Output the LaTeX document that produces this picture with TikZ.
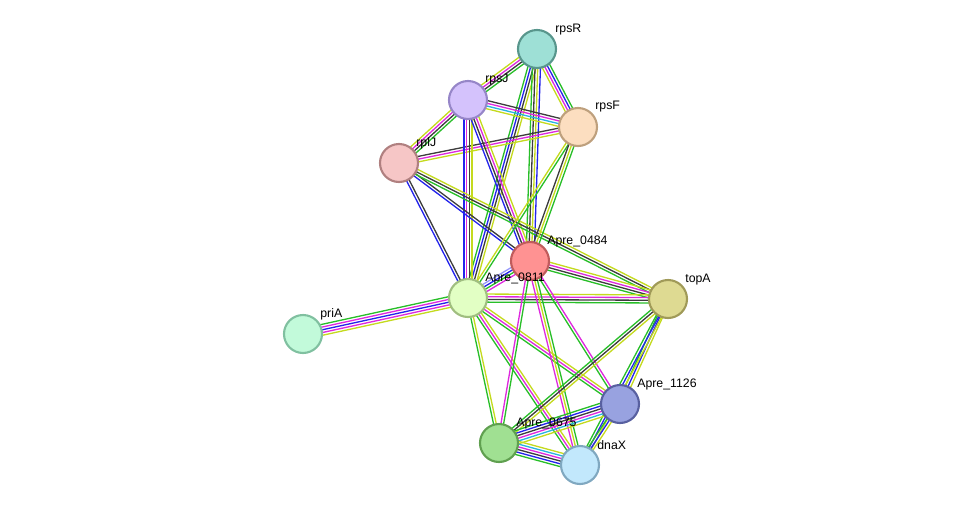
\documentclass[tikz,border=0pt]{standalone}
\usepackage{fontspec}
\setmainfont{Liberation Sans}
\usetikzlibrary{calc,backgrounds}
% evidence colours
\definecolor{nb}{RGB}{40,190,40}
\definecolor{tm}{RGB}{196,218,30}
\definecolor{cx}{RGB}{60,60,60}
\definecolor{ex}{RGB}{222,40,222}
\definecolor{db}{RGB}{40,180,225}
\definecolor{co}{RGB}{35,35,235}
\definecolor{hm}{RGB}{150,150,250}
\tikzset{prot/.style={circle, minimum size=0.76cm, line width=1.2pt, inner sep=0pt},
  lbl/.style={anchor=west, inner sep=0pt, font=\fontsize{7}{8}\selectfont},
  edge/.style={line width=0.75pt}}
% bundle of parallel evidence lines: from, to, count, colours
\newcommand{\strand}[4]{%
  \foreach \c [count=\i] in {#4}{
    \pgfmathsetmacro{\off}{(\i-(#3+1)/2)*0.054}
    \draw[edge, \c] ($(#1.center)!\off cm!90:(#2.center)$) -- ($(#2.center)!\off cm!-90:(#1.center)$);}}

\begin{document}
\begin{tikzpicture}[x=0.02cm, y=-0.02cm]
  \useasboundingbox (0,0) rectangle (975,511);
  % proteins
  \node[prot, fill={rgb,255:red,158;green,224;blue,214}, draw={rgb,255:red,88;green,150;blue,140}] (rpsR) at (537,49) {};
  \node[prot, fill={rgb,255:red,212;green,194;blue,252}, draw={rgb,255:red,150;green,134;blue,200}] (rpsJ) at (468,100) {};
  \node[prot, fill={rgb,255:red,252;green,222;blue,192}, draw={rgb,255:red,190;green,160;blue,125}] (rpsF) at (578,127) {};
  \node[prot, fill={rgb,255:red,246;green,198;blue,198}, draw={rgb,255:red,176;green,128;blue,128}] (rplJ) at (399,163) {};
  \node[prot, fill={rgb,255:red,255;green,146;blue,146}, draw={rgb,255:red,192;green,92;blue,92}] (a0484) at (530,261) {};
  \node[prot, fill={rgb,255:red,226;green,255;blue,196}, draw={rgb,255:red,160;green,190;blue,128}] (a0811) at (468,298) {};
  \node[prot, fill={rgb,255:red,222;green,218;blue,146}, draw={rgb,255:red,160;green,154;blue,88}] (topA) at (668,299) {};
  \node[prot, fill={rgb,255:red,194;green,250;blue,218}, draw={rgb,255:red,128;green,192;blue,160}] (priA) at (303,334) {};
  \node[prot, fill={rgb,255:red,152;green,162;blue,224}, draw={rgb,255:red,88;green,96;blue,160}] (a1126) at (620,404) {};
  \node[prot, fill={rgb,255:red,160;green,224;blue,146}, draw={rgb,255:red,96;green,160;blue,80}] (a0675) at (499,443) {};
  \node[prot, fill={rgb,255:red,194;green,232;blue,252}, draw={rgb,255:red,128;green,168;blue,192}] (dnaX) at (580,465) {};
  % labels
  \node[lbl] (rpsR-l) at (555,29.5) {rpsR};
  \node[lbl] (rpsJ-l) at (485,79.5) {rpsJ};
  \node[lbl] (rpsF-l) at (595,106.5) {rpsF};
  \node[lbl] (rplJ-l) at (416,143.5) {rplJ};
  \node[lbl] (a0484-l) at (547,241.5) {Apre\_0484};
  \node[lbl] (a0811-l) at (485,278.5) {Apre\_0811};
  \node[lbl] (topA-l) at (685,279.5) {topA};
  \node[lbl] (priA-l) at (320,314.5) {priA};
  \node[lbl] (a1126-l) at (637,384.5) {Apre\_1126};
  \node[lbl] (a0675-l) at (516,423.5) {Apre\_0675};
  \node[lbl] (dnaX-l) at (597,445.5) {dnaX};
  % associations
  \begin{pgfonlayer}{background}
    \strand{rpsR}{rpsJ}{4}{tm,ex,cx,nb}
    \strand{rpsR}{rpsF}{4}{tm,ex,co,nb}
    \strand{rpsR}{a0811}{4}{nb,co,cx,tm}
    \strand{rpsR}{a0484}{4}{nb,cx,tm,co}
    \strand{rpsJ}{rpsF}{4}{tm,db,ex,cx}
    \strand{rplJ}{rpsJ}{4}{nb,cx,ex,tm}
    \strand{rplJ}{rpsF}{3}{tm,ex,cx}
    \strand{rpsJ}{a0811}{4}{co,ex,cx,tm}
    \strand{rpsJ}{a0484}{4}{co,cx,ex,tm}
    \strand{rplJ}{a0811}{2}{co,cx}
    \strand{rplJ}{a0484}{2}{co,cx}
    \strand{rplJ}{topA}{3}{nb,cx,tm}
    \strand{rpsF}{a0811}{2}{tm,nb}
    \strand{rpsF}{a0484}{3}{cx,tm,nb}
    \strand{a0484}{a0811}{4}{hm,co,nb,ex}
    \strand{a0484}{topA}{4}{nb,cx,ex,tm}
    \strand{a0811}{topA}{4}{nb,cx,ex,tm}
    \strand{priA}{a0811}{5}{tm,ex,co,ex,nb}
    \strand{a0811}{a0675}{2}{nb,tm}
    \strand{a0811}{dnaX}{3}{nb,ex,tm}
    \strand{a0811}{a1126}{3}{nb,ex,tm}
    \strand{a0484}{a0675}{2}{ex,nb}
    \strand{a0484}{dnaX}{3}{ex,tm,nb}
    \strand{a0484}{a1126}{2}{nb,ex}
    \strand{topA}{a0675}{3}{nb,cx,tm}
    \strand{topA}{a1126}{3}{nb,co,tm}
    \strand{topA}{dnaX}{3}{nb,co,tm}
    \strand{a1126}{a0675}{6}{nb,co,cx,ex,db,tm}
    \strand{a1126}{dnaX}{3}{nb,co,tm}
    \strand{a0675}{dnaX}{6}{nb,co,cx,ex,db,tm}
  \end{pgfonlayer}
\end{tikzpicture}
\end{document}
